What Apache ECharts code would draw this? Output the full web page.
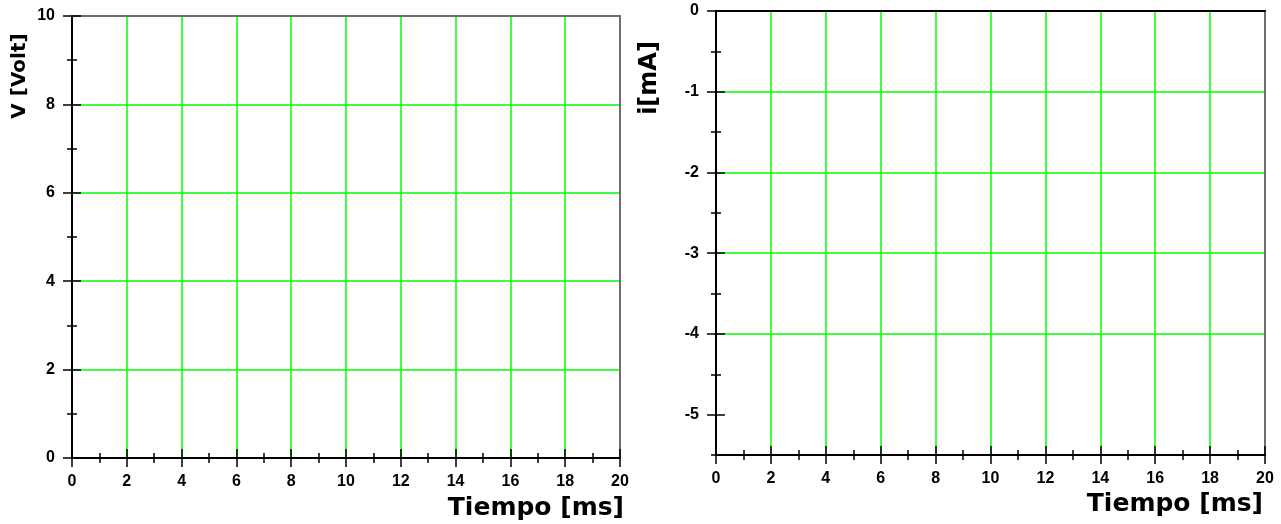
<!DOCTYPE html>
<html>
<head>
<meta charset="utf-8">
<script src="https://cdn.jsdelivr.net/npm/echarts@6/dist/echarts.min.js"></script>
<style>
html,body{margin:0;padding:0;background:#fff;}
#chart{width:1281px;height:524px;}
</style>
</head>
<body>
<div id="chart"></div>
<script>
// ---- data (the reference chart is an empty measurement grid) ----
const timeMs = [];            // x values of the plots (none drawn)
const voltage = [];           // V [Volt] samples (none drawn)
const current = [];           // i [mA] samples (none drawn)
const xRange = [0, 20];
const vRange = [0, 10];
const iRange = [-5.5, 0];
const iMajorTicks = [-5, -4, -3, -2, -1, 0];

const GREEN = '#00ff00';
const labelFont = { fontFamily: 'Liberation Sans, Arial, sans-serif', fontWeight: 'bold', fontSize: 16, color: '#000' };
const titleFont = { fontFamily: 'DejaVu Sans, sans-serif', fontWeight: 'bold', color: '#000' };

function none() {
  return { axisLine: { show: false, onZero: false }, axisTick: { show: false }, axisLabel: { show: false }, splitLine: { show: false }, splitArea: { show: false } };
}
function tickAxis(base, offset, len, extra) {
  return Object.assign({}, base, none(), {
    offset: offset, z: 5,
    axisTick: Object.assign({ show: true, inside: false, length: len, lineStyle: { color: '#000', width: 1.5 } }, extra || {})
  });
}
function axisLineStyle(color) {
  return { show: true, onZero: false, lineStyle: { color: color, width: 2 } };
}
const gridLine = { show: true, showMinLine: false, showMaxLine: false, lineStyle: { color: GREEN, width: 1.5 } };

function xAxesFor(g, nameGap, namePad, topColor) {
  const base = { type: 'value', gridIndex: g, min: xRange[0], max: xRange[1], interval: 2, position: 'bottom' };
  return [
    Object.assign({}, base, {
      z: 1,
      axisLine: axisLineStyle('#000'),
      axisTick: { show: false },
      axisLabel: Object.assign({ margin: 16, showMinLabel: true, showMaxLabel: true }, labelFont),
      splitLine: gridLine,
      name: 'Tiempo [ms]', nameLocation: 'end', nameGap: nameGap, nameMoveOverlap: false,
      nameTextStyle: Object.assign({ fontSize: 25, align: 'right', verticalAlign: 'top', padding: [namePad, 0, 0, 0] }, titleFont)
    }),
    tickAxis(base, -9, 18),
    tickAxis(Object.assign({}, base, { interval: 1 }), -5, 10),
    Object.assign({}, base, none(), { position: 'top', z: 1, axisLine: axisLineStyle(topColor) })
  ];
}

const xAxis = [].concat(
  xAxesFor(0, 4, 38, '#6e6e6e'),
  xAxesFor(1, -2, 37, '#000')
);

const yBaseL = { type: 'value', gridIndex: 0, min: vRange[0], max: vRange[1], interval: 2, position: 'left' };
const yBaseR = { type: 'value', gridIndex: 1, min: iRange[0], max: iRange[1], position: 'left' };

const yAxis = [
  // left plot
  Object.assign({}, yBaseL, {
    z: 1,
    axisLine: axisLineStyle('#000'),
    axisTick: { show: false },
    axisLabel: Object.assign({ margin: 17, showMinLabel: true, showMaxLabel: true }, labelFont),
    splitLine: gridLine,
    name: 'V [Volt]', nameLocation: 'end', nameGap: -60, nameRotate: 90, nameMoveOverlap: false,
    nameTextStyle: Object.assign({ fontSize: 20, align: 'center', verticalAlign: 'bottom', padding: [0, 0, 42, 0] }, titleFont)
  }),
  tickAxis(yBaseL, -9, 18),
  tickAxis(Object.assign({}, yBaseL, { interval: 1 }), -5, 10),
  Object.assign({}, yBaseL, none(), { position: 'right', z: 1, axisLine: axisLineStyle('#6e6e6e') }),
  // right plot
  Object.assign({}, yBaseR, {
    z: 1,
    axisLine: axisLineStyle('#000'),
    axisTick: { show: false, customValues: iMajorTicks },
    axisLabel: Object.assign({ margin: 17, customValues: iMajorTicks }, labelFont),
    splitLine: gridLine,
    name: 'i[mA]', nameLocation: 'end', nameGap: -67, nameRotate: 90, nameMoveOverlap: false,
    nameTextStyle: Object.assign({ fontSize: 24, align: 'center', verticalAlign: 'bottom', padding: [0, 0, 54, 0] }, titleFont)
  }),
  tickAxis(yBaseR, -9, 18, { customValues: iMajorTicks }),
  tickAxis(Object.assign({}, yBaseR, { interval: 0.5 }), -5, 10),
  Object.assign({}, yBaseR, none(), { position: 'right', z: 1, axisLine: axisLineStyle('#6e6e6e') })
];

const option = {
  animation: false,
  backgroundColor: '#fff',
  grid: [
    { left: 72, top: 16, width: 548, height: 442, containLabel: false, outerBoundsMode: 'none' },
    { left: 716, top: 11, width: 549, height: 444, containLabel: false, outerBoundsMode: 'none' }
  ],
  xAxis: xAxis,
  yAxis: yAxis,
  series: [
    { type: 'line', xAxisIndex: 0, yAxisIndex: 0, data: timeMs.map((t, k) => [t, voltage[k]]), showSymbol: false },
    { type: 'line', xAxisIndex: 4, yAxisIndex: 4, data: timeMs.map((t, k) => [t, current[k]]), showSymbol: false }
  ]
};

const chart = echarts.init(document.getElementById('chart'), null, { renderer: 'canvas' });
chart.setOption(option);
</script>
</body>
</html>
